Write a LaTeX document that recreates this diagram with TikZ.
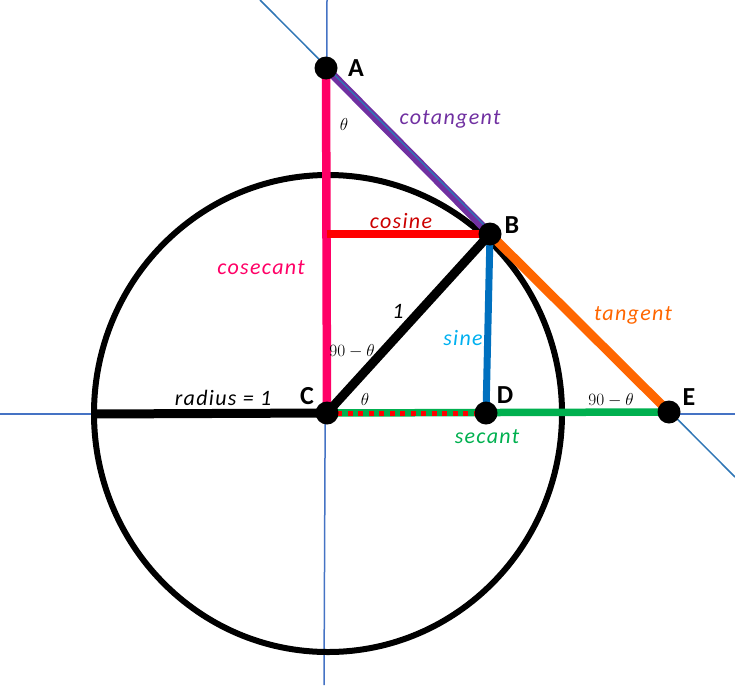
\documentclass[tikz,border=0pt]{standalone}
\usepackage{fontspec}
\setmainfont{Carlito}
\newfontfamily\etiq[LetterSpace=6]{Carlito}

\definecolor{ttwwcc}{rgb}{0.27, 0.45, 0.77}
\definecolor{ttwwbb}{rgb}{0.18, 0.46, 0.71}
\definecolor{ffqqww}{rgb}{1, 0, 0.4}
\definecolor{ffqqqq}{rgb}{1, 0, 0}
\definecolor{ccqqqq}{rgb}{0.8, 0, 0}
\definecolor{wwttzz}{rgb}{0.44, 0.19, 0.63}
\definecolor{ffwwqq}{rgb}{1, 0.4, 0}
\definecolor{qqwwcc}{rgb}{0, 0.44, 0.75}
\definecolor{qqbbff}{rgb}{0, 0.69, 0.94}
\definecolor{qqbbww}{rgb}{0, 0.69, 0.31}

\begin{document}
\begin{tikzpicture}[x=1pt, y=-1pt,
    letra/.style={font=\fontsize{26}{26}\selectfont\bfseries},
    etiqueta/.style={font=\etiq\fontsize{22}{22}\selectfont\itshape},
    angulo/.style={font=\fontsize{18}{18}\selectfont}]
        \useasboundingbox (0, 0) rectangle (735, 685);

        \coordinate (A) at (326, 68);
        \coordinate (B) at (490, 234);
        \coordinate (C) at (327, 413);
        \coordinate (D) at (486, 413);
        \coordinate (E) at (669, 412);
        \coordinate (R) at (94, 414);

        \draw[color=ttwwcc, line width=1.5] (327, 0) -- (324, 685); % eje y
        \draw[color=ttwwcc, line width=1.5] (0, 414) -- (735, 414); % eje x

        \draw[line width=6] (328, 413.5) ellipse [x radius=234, y radius=238.5];

        \draw[line width=9] (R) -- (C);
        \draw[line width=9] (C) -- (B);

        \draw[color=ffqqww, line width=8.5] (A) -- (C);
        \draw[color=ffqqqq, line width=8] (C |- B) -- (B);
        \draw[color=qqwwcc, line width=7] (B) -- (D);
        \draw[color=qqbbww, line width=7.5] (C) -- (E);
        \draw[color=ffqqqq, line width=5, dash pattern=on 5 off 5.5] ([xshift=10]C) -- (D);

        \draw[color=wwttzz, line width=8] (A) -- (B);
        \draw[color=ttwwbb, line width=1.5] (260, 0) -- (735, 477); % recta tangente
        \draw[color=ffwwqq, line width=9] (B) -- (E);

        \foreach \p in {A, B, C, D, E}
        \fill (\p) circle (11.5);

        \node[letra] (la) at (356, 68) {A};
        \node[letra] (lb) at (512, 225) {B};
        \node[letra] (lc) at (307, 396) {C};
        \node[letra] (ld) at (505, 395) {D};
        \node[letra] (le) at (689, 397) {E};

        \node[etiqueta, color=wwttzz] (cot) at (450, 119) {cotangent};
        \node[etiqueta, color=ccqqqq] (cos) at (401, 221) {cosine};
        \node[etiqueta, color=ffqqww] (csc) at (261, 268) {cosecant};
        \node[etiqueta] (uno) at (398, 311) {1};
        \node[etiqueta, color=qqbbff] (sen) at (463, 338) {sine};
        \node[etiqueta, color=ffwwqq] (tan) at (633, 315) {tangent};
        \node[etiqueta] (rad) at (223, 398) {radius = 1};
        \node[etiqueta, color=qqbbww] (sec) at (487, 437) {secant};

        \node[angulo] (ta) at (344, 124) {$\theta$};
        \node[angulo] (tc) at (365, 399) {$\theta$};
        \node[angulo] (nc) at (352, 351) {$90-\theta$};
        \node[angulo] (ne) at (611, 400) {$90-\theta$};
    \end{tikzpicture}
\end{document}
